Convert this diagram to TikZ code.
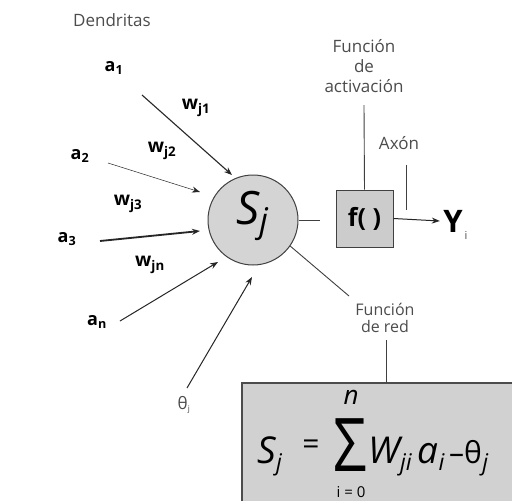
\documentclass[tikz,border=0pt]{standalone}
\usepackage{fontspec}
\setmainfont{Open Sans}
\usetikzlibrary{arrows.meta}
\definecolor{lbl}{gray}{0.30}
\definecolor{neuron}{gray}{0.83}
\definecolor{boxfill}{gray}{0.80}
\definecolor{formfill}{gray}{0.82}
\newcommand{\fsz}[1]{\fontsize{#1}{#1}\selectfont}
\newcommand{\fsk}[2]{\fontsize{#1}{#2}\selectfont}
\begin{document}
\begin{tikzpicture}[x=1pt,y=-1pt,
  thinlbl/.style={text=lbl, align=center, inner sep=0pt},
  inp/.style={font=\bfseries\fsz{18}},
  wgt/.style={font=\bfseries\fsz{19}},
  arr/.style={draw=black!85, -{Stealth[length=8pt,width=6pt]}},
  ln/.style={draw=black!75, line width=0.9pt},
  fbig/.style={font=\fsz{37}\itshape, anchor=base west, inner sep=0pt},
  fsub/.style={font=\fsz{23}\itshape, anchor=base west, inner sep=0pt}]
\useasboundingbox (0,0) rectangle (512,501);
\fill[white] (0,0) rectangle (512,501);

% labels
\node[thinlbl, font=\fsz{17}] (dend) at (112,20) {Dendritas};
\node[inp] (a1) at (114,68) {a\textsubscript{1}};
\node[inp] (a2) at (80,156) {a\textsubscript{2}};
\node[inp] (a3) at (67,239) {a\textsubscript{3}};
\node[inp] (an) at (97,322) {a\textsubscript{n}};
\node[wgt] (w1) at (196,108) {w\textsubscript{j1}};
\node[wgt] (w2) at (162,151) {w\textsubscript{j2}};
\node[wgt] (w3) at (128,204) {w\textsubscript{j3}};
\node[wgt] (wn) at (150,265) {w\textsubscript{jn}};
\node[text=lbl, font=\fsz{17}] (th) at (184,405) {θ\textsubscript{\fsz{8}j}};

% neuron
\node[circle, minimum size=90pt, inner sep=0pt, fill=neuron, draw=black!75, line width=1pt] (sj) at (253,220) {};
\node[font=\fsz{46}\itshape] (sjt) at (252,216) {S\raisebox{-0.3ex}{\fsz{34}\itshape j}};

% inputs
\coordinate (s1) at (142,95);  \coordinate (e1) at (232,175);
\coordinate (s2) at (108,163); \coordinate (e2) at (200,192);
\coordinate (s3) at (100,241); \coordinate (e3) at (200,231);
\coordinate (sn) at (120,321); \coordinate (en) at (218,262);
\coordinate (st) at (187,388); \coordinate (et) at (252,277);
\draw[arr, line width=1.1pt] (s1) -- (e1);
\draw[arr, line width=0.5pt] (s2) -- (e2);
\draw[arr, line width=1.8pt] (s3) -- (e3);
\draw[arr, line width=1.0pt] (sn) -- (en);
\draw[arr, line width=1.0pt] (st) -- (et);

% activation box
\node[draw=black!75, line width=1pt, fill=boxfill, minimum width=57pt, minimum height=57pt, inner sep=0pt, font=\bfseries\fsz{25}] (f) at (364.5,218.5) {f( )};
\coordinate (c1) at (320,220);
\draw[ln] (sj.east) -- (c1);
\node[font=\bfseries\fsz{31}] (y) at (453,221) {Y};
\node[font=\fsz{11}, text=lbl] (yi) at (466,235) {i};
\draw[arr, line width=1pt] (f.east) -- (y.west);

\node[thinlbl, font=\fsk{17}{20}] (act) at (364,66) {Función\\de\\activación};
\coordinate (actb) at (364,105);
\draw[ln] (f.north) -- (actb);
\node[thinlbl, font=\fsz{17}] (ax) at (399,143) {Axón};
\coordinate (ax1) at (406,165); \coordinate (ax2) at (406,210);
\draw[ln] (ax1) -- (ax2);

\node[thinlbl, font=\fsk{16}{17}] (red) at (385,318) {Función\\de red};
\coordinate (rd) at (349,296);
\draw[ln] (sj.-35) -- (rd);

% formula box
\fill[formfill] (242,383) rectangle (512,501);
\draw[draw=black!70, line width=1.3pt] (242,501) -- (242,383) -- (512,383);
\coordinate (redb) at (386,340);
\coordinate (boxt) at (386,383);
\draw[ln] (redb) -- (boxt);

\node[fbig] (fs) at (257,463) {S};
\node[fsub] (fsj) at (fs.base east) [yshift=-7pt] {j};
\node[font=\fsz{30}, inner sep=0pt] (feq) at (311,447) {=};
\node[font=\fsz{74}, inner sep=0pt, text depth=0pt, text height=53pt, anchor=base] (fsum) at (350,471) {\scalebox{0.8}[1]{Σ}};
\node[font=\fsz{26}\itshape, inner sep=0pt] (fn) at (351,397) {n};
\node[font=\fsz{15}, inner sep=0pt] (fi) at (351,492) {i = 0};
\node[fbig] (fw) at (368,463) {W};
\node[fsub] (fwj) at (fw.base east) [yshift=-7pt] {ji};
\node[fbig] (fa) at (417,463) {a};
\node[fsub] (fai) at (fa.base east) [yshift=-7pt] {i};
\node[font=\fsz{30}, anchor=base west, inner sep=0pt] (fm) at (449,463) {–θ};
\node[fsub] (fthj) at (fm.base east) [yshift=-7pt] {j};
\end{tikzpicture}
\end{document}
